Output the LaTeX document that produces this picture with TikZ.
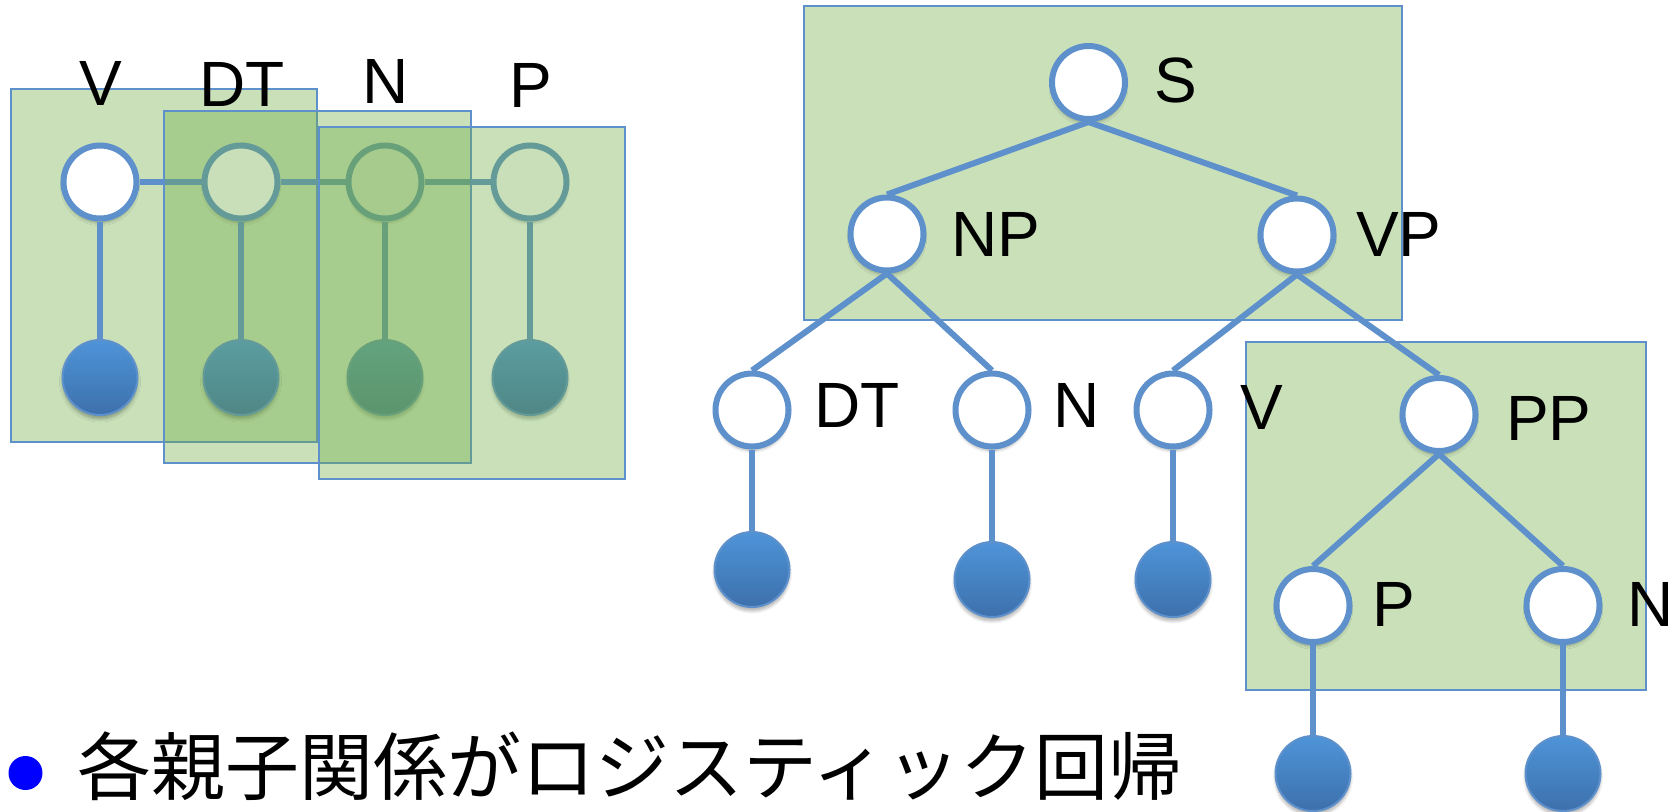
\documentclass[tikz,border=0pt]{standalone}
\usepackage{fontspec}
\setmainfont{Liberation Sans}
\newfontfamily\jpfont{Noto Sans CJK JP}
\usetikzlibrary{shadows.blur}
\definecolor{nodeblue}{HTML}{5E91CB}
\definecolor{leaftop}{HTML}{4E94D8}
\definecolor{leafbot}{HTML}{3D70AC}
\definecolor{factor}{HTML}{70AD47}
\definecolor{bulletblue}{HTML}{0000FF}

\begin{document}
\begin{tikzpicture}[x=1pt, y=-1pt,
    soft/.style={blur shadow={shadow xshift=0pt, shadow yshift=-4pt, shadow blur radius=3pt, shadow blur steps=6, shadow opacity=30}},
    state/.style={circle, draw=nodeblue, line width=6pt, fill=white, minimum size=73pt, inner sep=0pt, soft},
    word/.style={circle, draw=nodeblue, line width=2pt, top color=leaftop, bottom color=leafbot, minimum size=75pt, inner sep=0pt, soft},
    factorbox/.style={draw=nodeblue, line width=1.8pt, fill=factor, fill opacity=0.38},
    link/.style={draw=nodeblue, line width=6pt},
    tag/.style={anchor=base west, inner sep=0pt, font=\fontsize{64}{64}\selectfont},
    toptag/.style={anchor=base, inner sep=0pt, font=\fontsize{64}{64}\selectfont}
]
    \useasboundingbox (0,0) rectangle (1677,811);

    % Chain: first factor
    \draw[factorbox] (11,89) rectangle (317,442);

    \node[state] (cv) at (100,182) {};
    \node[state] (cdt) at (241,182) {};
    \node[state] (cn) at (385,182) {};
    \node[state] (cp) at (530,182) {};

    \node[word] (wv) at (100,377.5) {};
    \node[word] (wdt) at (241,377.5) {};
    \node[word] (wn) at (385,377.5) {};
    \node[word] (wp) at (530,377.5) {};

    \draw[link] (cv) -- (cdt);
    \draw[link] (cdt) -- (cn);
    \draw[link] (cn) -- (cp);
    \draw[link] (cv.south) -- (wv.north);
    \draw[link] (cdt.south) -- (wdt.north);
    \draw[link] (cn.south) -- (wn.north);
    \draw[link] (cp.south) -- (wp.north);

    % Chain: other factors on top
    \draw[factorbox] (164,111) rectangle (471,463);
    \draw[factorbox] (319,127) rectangle (625,479);

    \node[toptag] (lv) at (100.5,105.5) {V};
    \node[toptag] (ldt) at (242,106.5) {DT};
    \node[toptag] (ln) at (386,103.5) {N};
    \node[toptag] (lp) at (531,107) {P};

    % Tree: factors
    \draw[factorbox] (804,6) rectangle (1402,320);
    \draw[factorbox] (1246,342) rectangle (1646,690);

    % Tree: states
    \node[state] (s) at (1088.5,82.5) {};
    \node[state] (np) at (887,234) {};
    \node[state] (vp) at (1297,235) {};
    \node[state] (dt) at (752,410) {};
    \node[state] (n) at (992,410) {};
    \node[state] (v) at (1173,410) {};
    \node[state] (pp) at (1439,414.5) {};
    \node[state] (p) at (1313,605.5) {};
    \node[state] (n2) at (1563,605.5) {};

    % Tree: words
    \node[word] (wdt2) at (752,569.5) {};
    \node[word] (wn2) at (992,579.5) {};
    \node[word] (wv2) at (1173,579.5) {};
    \node[word] (wp2) at (1313,773.5) {};
    \node[word] (wn3) at (1563,773.5) {};

    \draw[link] (s.south) -- (np.north);
    \draw[link] (s.south) -- (vp.north);
    \draw[link] (np.south) -- (dt.north);
    \draw[link] (np.south) -- (n.north);
    \draw[link] (vp.south) -- (v.north);
    \draw[link] (vp.south) -- (pp.north);
    \draw[link] (pp.south) -- (p.north);
    \draw[link] (pp.south) -- (n2.north);
    \draw[link] (dt.south) -- (wdt2.north);
    \draw[link] (n.south) -- (wn2.north);
    \draw[link] (v.south) -- (wv2.north);
    \draw[link] (p.south) -- (wp2.north);
    \draw[link] (n2.south) -- (wn3.north);

    % Tree: labels
    \node[tag] (ls) at (1154,102) {S};
    \node[tag] (lnp) at (951,256.5) {NP};
    \node[tag] (lvp) at (1356,256) {VP};
    \node[tag] (ldt2) at (814,427.3) {DT};
    \node[tag] (ln2) at (1053,427) {N};
    \node[tag] (lv2) at (1240,429) {V};
    \node[tag] (lpp) at (1506,440) {PP};
    \node[tag] (lp2) at (1372,626.7) {P};
    \node[tag] (ln3) at (1627,626) {N};

    % Bullet line
    \node[circle, fill=bulletblue, minimum size=34pt, inner sep=0pt] (bullet) at (25.5,773) {};
    \node[anchor=base west, inner sep=0pt, font=\jpfont\fontsize{74}{74}\selectfont] (note) at (77,794) {各親子関係がロジスティック回帰};
\end{tikzpicture}
\end{document}
